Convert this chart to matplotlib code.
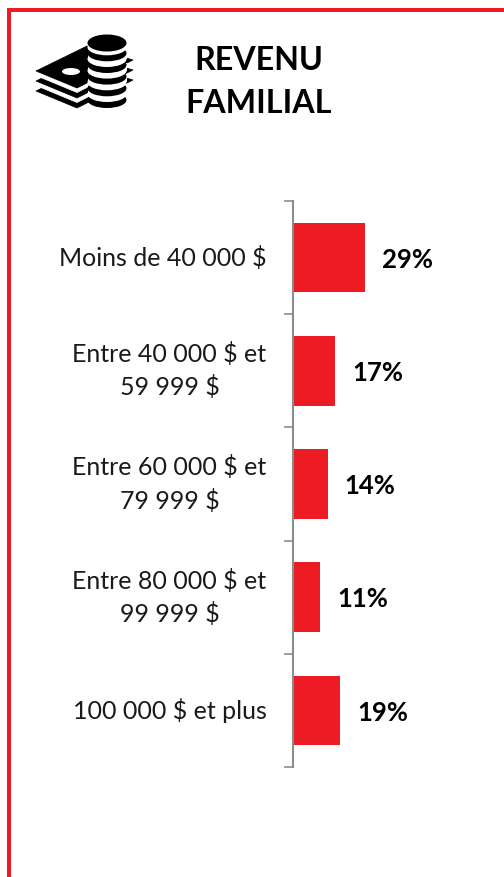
import matplotlib
matplotlib.use('Agg')
import matplotlib.pyplot as plt
from matplotlib.patches import Ellipse, Polygon, Rectangle

plt.rcParams['font.family'] = ['Lato', 'DejaVu Sans']

# Data
categories = ['Moins de 40 000 $', 'Entre 40 000 $ et\n59 999 $', 'Entre 60 000 $ et\n79 999 $',
              'Entre 80 000 $ et\n99 999 $', '100 000 $ et plus']
values = [29, 17, 14, 11, 19]
title = 'REVENU\nFAMILIAL'

RED = '#ed1c24'
W, H = 504, 877

fig = plt.figure(figsize=(W / 100, H / 100), dpi=100, facecolor='white')

# Overlay in pixel coordinates for frame and icon
bg = fig.add_axes([0, 0, 1, 1])
bg.set_xlim(0, W)
bg.set_ylim(H, 0)
bg.axis('off')

# Red frame (open on the right and bottom)
bg.add_patch(Rectangle((7, 8), W - 7, 4, color=RED, lw=0))
bg.add_patch(Rectangle((7, 8), 4, H - 8, color=RED, lw=0))

# Icon: stacked bills
for dy, col in [(20, 'black'), (14.5, 'white'), (10, 'black'), (4.5, 'white'), (0, 'black')]:
    bg.add_patch(Polygon([(36, 71 + dy), (87, 46 + dy), (133, 60 + dy), (77, 88 + dy)],
                         closed=True, facecolor=col, edgecolor=col, lw=0.5, joinstyle='round'))
bg.add_patch(Ellipse((71, 71.5), 18, 7, color='white', lw=0))

# Icon: coin stack, drawn bottom to top
coin_bottom = [108, 96.3, 84.6, 73, 61.3]
for b in coin_bottom:
    bg.add_patch(Ellipse((107, b - 8), 39, 16, color='black', lw=0))
    bg.add_patch(Ellipse((107, b - 14), 39, 16, color='white', lw=0))
    bg.add_patch(Rectangle((87.5, b - 22), 39, 8, color='white', lw=0))
bg.add_patch(Ellipse((107, 43), 39, 17, color='black', lw=0))

bg.text(259, 82, title, ha='center', va='center', fontsize=23.2, fontweight='bold',
        color='black', linespacing=1.55)

# Bar chart
ax = fig.add_axes([293 / W, 1 - 767 / H, (W - 293) / W, (767 - 201) / H])
ax.patch.set_alpha(0)
pos = list(range(len(categories)))
ax.barh(pos, values, height=0.615, color=RED)
ax.set_xlim(0, (W - 293) / 2.483)
ax.set_ylim(len(categories) - 0.5, -0.5)

for i, v in zip(pos, values):
    ax.text(v + 17.1, i + 0.02, f'{v}%', va='center', ha='center', fontsize=18.5, fontweight='bold', color='black')

for s in ['top', 'right', 'bottom']:
    ax.spines[s].set_visible(False)
ax.spines['left'].set_color('#8c8c8c')
ax.spines['left'].set_linewidth(1.5)
ax.xaxis.set_visible(False)

ax.set_yticks(pos)
ax.set_yticklabels(categories, fontsize=18, color='#1a1a1a', ha='right', va='center',
                   multialignment='center', linespacing=1.47)
ax.tick_params(axis='y', which='major', length=0, pad=19)
ax.set_yticks([p - 0.5 for p in pos] + [len(categories) - 0.5], minor=True)
ax.tick_params(axis='y', which='minor', length=6.5, width=1.2, color='#8c8c8c')

fig.savefig('out.png', dpi=100)
